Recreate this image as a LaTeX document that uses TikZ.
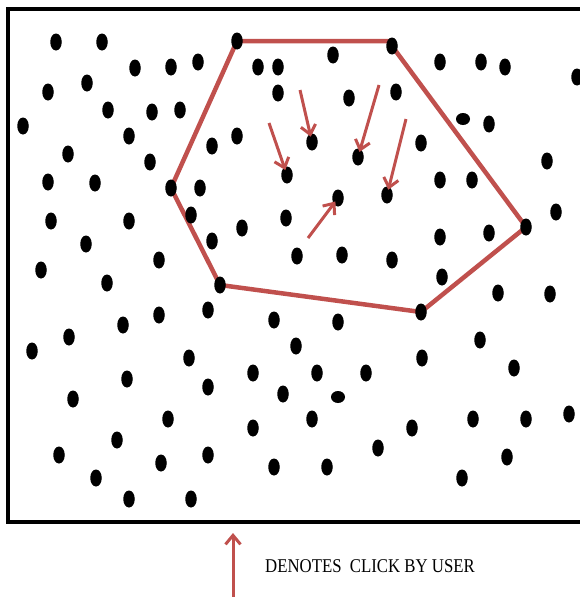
\documentclass[tikz,border=0pt]{standalone}
\usepackage{fontspec}
\usepackage{xcolor}
\usetikzlibrary{arrows.meta,shapes.geometric,backgrounds}

\newfontfamily\legendfont[FakeStretch=0.86]{Liberation Serif}
\definecolor{clickred}{RGB}{192,80,77}

\begin{document}
\begin{tikzpicture}[
    x=1pt,
    y=-1pt,
    dot/.style={
        ellipse,
        fill=black,
        inner sep=0pt,
        minimum width=11.5pt,
        minimum height=17pt
    },
    flatdot/.style={
        ellipse,
        fill=black,
        inner sep=0pt,
        minimum width=14pt,
        minimum height=12pt
    },
    frame/.style={
        draw,
        line width=3.6pt
    },
    region/.style={
        draw,
        line width=4.5pt,
        color=clickred
    },
    click/.style={
        draw,
        -{Straight Barb[length=9pt,width=15pt]},
        line width=3pt,
        shorten >=-3pt,
        color=clickred
    }
]
    \useasboundingbox (0,0) rectangle (580,597);

    % Frame
    \draw [frame] (600,9) -| (8,522) -- (600,522);

    % Points
    \foreach \px/\py [count=\i] in {
        56/42, 102/42, 135/68, 171/67, 198/62, 258/67, 278/67, 48/92, 87/83,
        278/93, 108/110, 152/112, 180/110, 23/126, 129/136, 212/146, 237/136,
        68/154, 150/162, 48/182, 95/183, 200/188, 51/221, 129/221, 191/215,
        286/218, 242/228, 86/244, 212/241, 41/270, 159/260,
        333/55, 440/62, 481/62, 505/67, 577/77, 349/98, 396/92, 489/124,
        421/143, 547/161, 440/180, 472/180, 556/212, 440/237, 489/233,
        297/256, 342/255, 392/260, 442/277,
        107/283, 123/325, 159/315, 208/310, 274/320, 69/337, 32/351, 189/358,
        296/346, 127/379, 208/387, 253/373, 283/394, 73/399, 168/419, 253/428,
        117/440, 59/455, 161/463, 208/455, 274/467, 96/478, 129/499, 191/499,
        498/293, 550/294, 338/322, 480/340, 422/358, 514/368, 317/373,
        366/373, 312/419, 473/419, 526/419, 569/414, 412/428, 378/448,
        507/457, 327/467, 462/478}
        \node [dot] (p\i) at (\px,\py) {};
    \node [flatdot] (f1) at (463,119) {};
    \node [flatdot] (f2) at (338,397) {};

    % Region corners
    \node [dot] (v1) at (237,41) {};
    \node [dot] (v2) at (392,46) {};
    \node [dot] (v3) at (526,227) {};
    \node [dot] (v4) at (421,312) {};
    \node [dot] (v5) at (220,285) {};
    \node [dot] (v6) at (171,188) {};

    % Clicked points
    \node [dot] (t1) at (312,142) {};
    \node [dot] (t2) at (358,157) {};
    \node [dot] (t3) at (387,195) {};
    \node [dot] (t4) at (338,198) {};
    \node [dot] (t5) at (287,175) {};

    % Selected region (Red Solid), under the points
    \begin{pgfonlayer}{background}
        \draw [region, line join=round] (v1.center) -- (v2.center |- v1.center)
            -- (v2.center) -- (v3.center) -- (v4.center) -- (v5.center)
            -- (v6.center) -- cycle;
    \end{pgfonlayer}

    % Clicks (Red Arrows)
    \coordinate (c1) at (300,90);
    \coordinate (c2) at (379,85);
    \coordinate (c3) at (406,119);
    \coordinate (c4) at (308,238);
    \coordinate (c5) at (269,123);
    \path [click] (c1) -- (t1);
    \path [click] (c2) -- (t2);
    \path [click] (c3) -- (t3);
    \path [click] (c4) -- (t4);
    \path [click] (c5) -- (t5);

    % Legend
    \coordinate (legtail) at (233,600);
    \coordinate (legtip) at (233,533);
    \path [click, shorten >=0pt] (legtail) -- (legtip);
    \node [anchor=west, inner sep=0pt, font=\legendfont\fontsize{19.5}{23}\selectfont]
        (legend) at (265,566) {DENOTES\ \ CLICK BY USER};
\end{tikzpicture}
\end{document}
